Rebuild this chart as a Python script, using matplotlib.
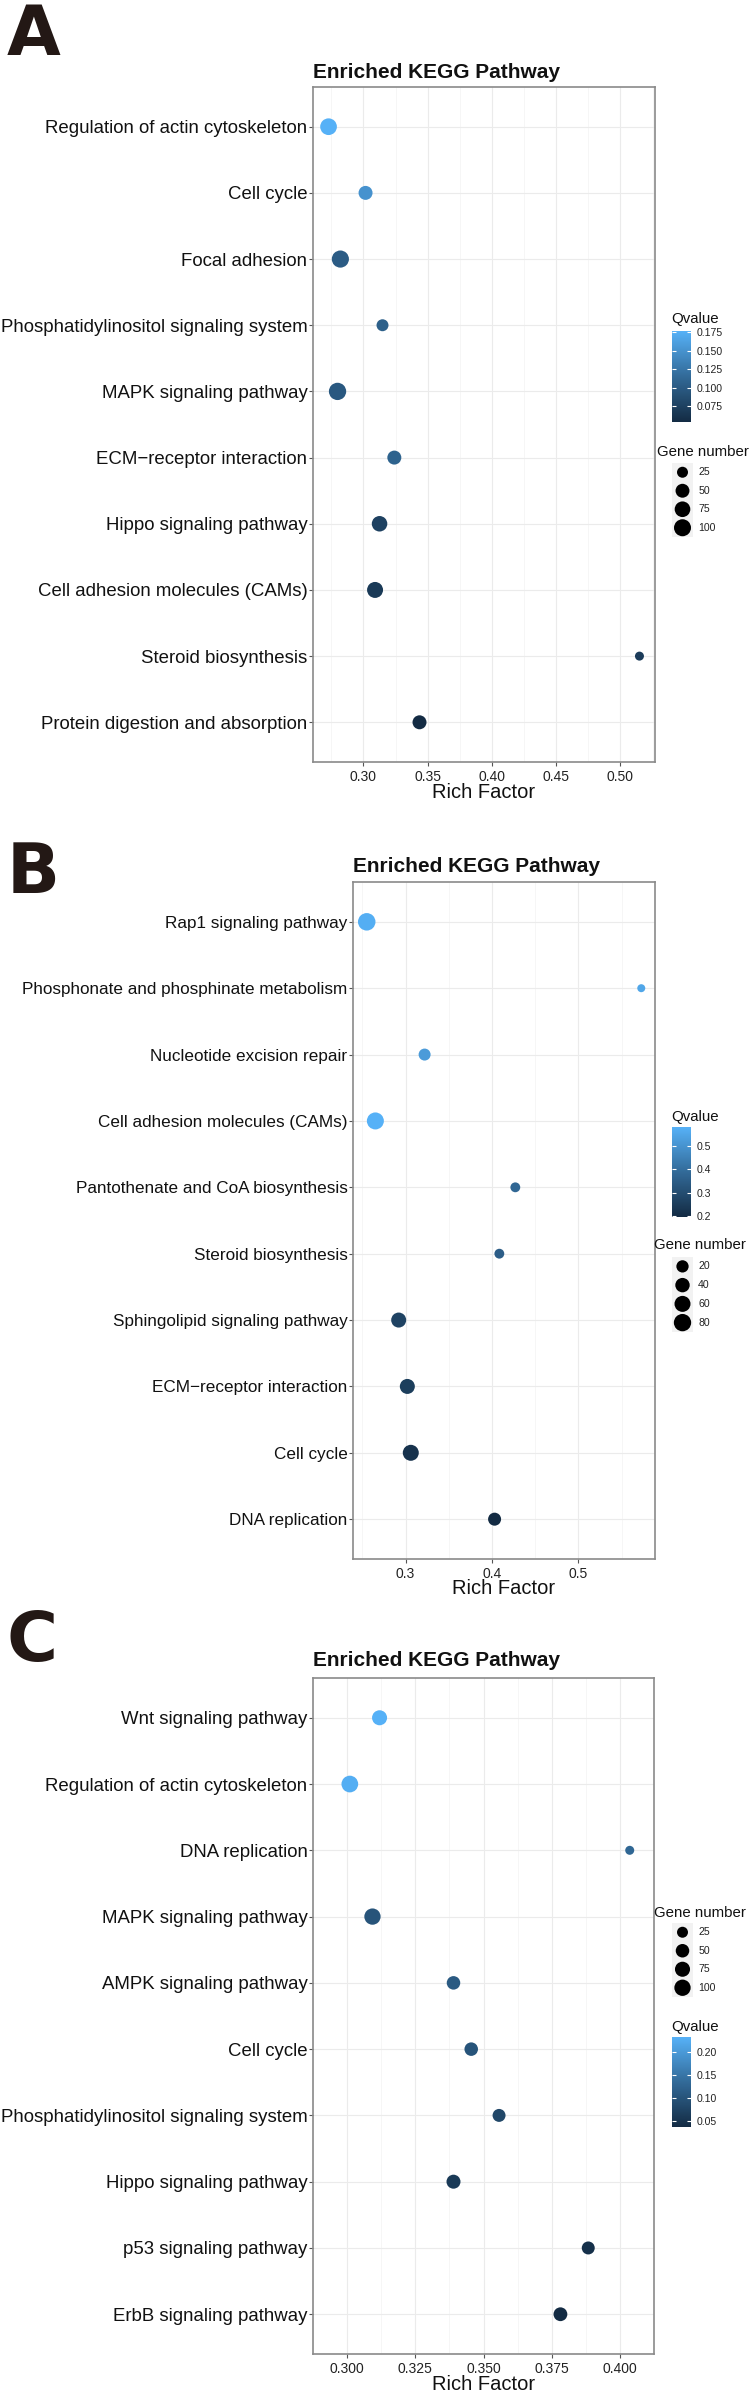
import numpy as np
import matplotlib
matplotlib.use('Agg')
import matplotlib.pyplot as plt
from matplotlib.colors import LinearSegmentedColormap, Normalize
from matplotlib.cm import ScalarMappable

plt.rcParams['font.family'] = ['Liberation Sans', 'DejaVu Sans']

W, H = 752, 2398
DPI = 100

# ---------------- data ----------------
a_terms = ['Regulation of actin cytoskeleton', 'Cell cycle', 'Focal adhesion',
           'Phosphatidylinositol signaling system', 'MAPK signaling pathway',
           'ECM\u2212receptor interaction', 'Hippo signaling pathway',
           'Cell adhesion molecules (CAMs)', 'Steroid biosynthesis',
           'Protein digestion and absorption']
a_rich = [0.2728, 0.3016, 0.282, 0.3148, 0.2798, 0.324, 0.3125, 0.309, 0.5148, 0.3436]
a_qvalue = [0.177, 0.150, 0.100, 0.105, 0.098, 0.108, 0.075, 0.068, 0.070, 0.053]
a_genes = [94, 51, 103, 31, 106, 51, 73, 81, 20, 51]
a_xticks = [0.30, 0.35, 0.40, 0.45, 0.50]
a_xlabels = ['0.30', '0.35', '0.40', '0.45', '0.50']
a_qticks = [0.075, 0.100, 0.125, 0.150, 0.175]
a_qlabels = ['0.075', '0.100', '0.125', '0.150', '0.175']
a_gene_keys = [25, 50, 75, 100]

b_terms = ['Rap1 signaling pathway', 'Phosphonate and phosphinate metabolism',
           'Nucleotide excision repair', 'Cell adhesion molecules (CAMs)',
           'Pantothenate and CoA biosynthesis', 'Steroid biosynthesis',
           'Sphingolipid signaling pathway', 'ECM\u2212receptor interaction',
           'Cell cycle', 'DNA replication']
b_rich = [0.255, 0.5728, 0.322, 0.265, 0.427, 0.4085, 0.292, 0.302, 0.306, 0.403]
b_qvalue = [0.570, 0.550, 0.520, 0.580, 0.380, 0.350, 0.270, 0.255, 0.220, 0.197]
b_genes = [83, 4, 18, 75, 7, 7, 47, 47, 60, 26]
b_xticks = [0.3, 0.4, 0.5]
b_xlabels = ['0.3', '0.4', '0.5']
b_qticks = [0.2, 0.3, 0.4, 0.5]
b_qlabels = ['0.2', '0.3', '0.4', '0.5']
b_gene_keys = [20, 40, 60, 80]

c_terms = ['Wnt signaling pathway', 'Regulation of actin cytoskeleton', 'DNA replication',
           'MAPK signaling pathway', 'AMPK signaling pathway', 'Cell cycle',
           'Phosphatidylinositol signaling system', 'Hippo signaling pathway',
           'p53 signaling pathway', 'ErbB signaling pathway']
c_rich = [0.3119, 0.301, 0.4036, 0.3093, 0.339, 0.3455, 0.3557, 0.339, 0.3884, 0.3782]
c_qvalue = [0.233, 0.228, 0.130, 0.100, 0.110, 0.100, 0.080, 0.060, 0.045, 0.037]
c_genes = [74, 109, 19, 100, 50, 50, 43, 57, 43, 54]
c_xticks = [0.300, 0.325, 0.350, 0.375, 0.400]
c_xlabels = ['0.300', '0.325', '0.350', '0.375', '0.400']
c_qticks = [0.05, 0.10, 0.15, 0.20]
c_qlabels = ['0.05', '0.10', '0.15', '0.20']
c_gene_keys = [25, 50, 75, 100]

# ggplot-like default gradient
cmap = LinearSegmentedColormap.from_list('gg', ['#132B43', '#326A98', '#56B1F7'])


def rect(l, t, r, b):
    return [l / W, 1 - b / H, (r - l) / W, (b - t) / H]


def dot_size(g, gmin, gmax, dmin, dmax):
    g = np.asarray(g, dtype=float)
    frac = np.clip((g - gmin) / (gmax - gmin), 0, None)
    d = dmin + (dmax - dmin) * np.sqrt(frac)
    return (d * 72.0 / DPI) ** 2


def draw_panel(fig, letter, terms, rich, qvalue, genes, xticks, xlabels,
               qticks, qlabels, gene_keys, lay):
    l, t, r, b = lay['box']
    ax = fig.add_axes(rect(l, t, r, b))
    n = len(terms)
    y = np.arange(n)
    norm = Normalize(min(qvalue), max(qvalue))
    gmin, gmax = min(genes), max(genes)
    ax.scatter(rich, y, s=dot_size(genes, gmin, gmax, *lay['dots']),
               c=qvalue, cmap=cmap, norm=norm, edgecolors='none', zorder=3)

    span = max(rich) - min(rich)
    ax.set_xlim(min(rich) - 0.05 * span, max(rich) + 0.05 * span)
    ax.set_ylim(n - 0.4, -0.6)
    ax.set_yticks(y)
    ax.set_yticklabels(terms, fontsize=lay['label_fs'], color='#111111')
    ax.set_xticks(xticks)
    ax.set_xticklabels(xlabels, fontsize=10, color='#222222')
    step = xticks[1] - xticks[0]
    minor = np.arange(xticks[0] - step / 2, xticks[-1] + step, step)
    ax.set_xticks(minor, minor=True)
    ax.grid(which='major', color='#EBEBEB', lw=0.8)
    ax.grid(which='minor', axis='x', color='#F3F3F3', lw=0.5)
    ax.set_axisbelow(True)
    ax.tick_params(which='minor', length=0)
    ax.tick_params(axis='y', length=3, width=0.8, color='#555555', pad=1)
    ax.tick_params(axis='x', length=3, width=0.8, color='#555555', pad=3)
    for sp in ax.spines.values():
        sp.set_color('#8a8a8a')
        sp.set_linewidth(1.2)

    cx = (l + r) / 2 / W
    fig.text(l / W, 1 - lay['title_y'] / H, 'Enriched KEGG Pathway',
             fontsize=15, fontweight='bold', ha='left', va='center', color='#111111')
    fig.text(cx, 1 - lay['xlab_y'] / H, 'Rich Factor', fontsize=14.5,
             ha='center', va='center', color='#111111')
    fig.text(7 / W, 1 - lay['letter_y'] / H, letter, fontsize=50, family='DejaVu Sans',
             fontweight='bold', ha='left', va='top', color='#231815')

    # colour bar
    bl, bt, br, bb = lay['qbar']
    cax = fig.add_axes(rect(bl, bt, br, bb))
    cb = fig.colorbar(ScalarMappable(norm=norm, cmap=cmap), cax=cax, ticks=qticks)
    cb.outline.set_visible(False)
    cb.set_ticklabels(qlabels)
    cax.yaxis.set_ticks_position('both')
    cax.tick_params(direction='in', length=3, width=0.8, color='white',
                    labelsize=7.6, labelcolor='#222222', pad=4,
                    labelleft=False, labelright=True)
    fig.text(lay['qtitle'][0] / W, 1 - lay['qtitle'][1] / H, 'Qvalue',
             fontsize=10.8, ha='center', va='center', color='#111111')

    # gene number legend
    kl, kt, kr, kb = lay['keys']
    lax = fig.add_axes(rect(kl, kt, kr, kb))
    lax.set_facecolor('#F2F2F2')
    k = len(gene_keys)
    lax.set_xlim(0, 1)
    lax.set_ylim(k - 0.5, -0.5)
    lax.scatter([0.5] * k, np.arange(k),
                s=dot_size(gene_keys, gmin, gmax, *lay['dots']),
                color='black', edgecolors='none', clip_on=False)
    for i, g in enumerate(gene_keys):
        lax.text(1.25, i, str(g), fontsize=7.6, va='center', ha='left', color='#222222')
    lax.set_xticks([])
    lax.set_yticks([])
    for sp in lax.spines.values():
        sp.set_visible(False)
    fig.text(lay['gtitle'][0] / W, 1 - lay['gtitle'][1] / H, 'Gene number',
             fontsize=10.8, ha='center', va='center', color='#111111')


fig = plt.figure(figsize=(W / DPI, H / DPI), dpi=DPI)

lay_a = dict(box=(313, 87, 655, 762), title_y=72, xlab_y=793, letter_y=2, label_fs=13.4,
             qbar=(672, 331, 691, 422), qtitle=(695, 319),
             keys=(672, 463, 693, 537), gtitle=(703, 452), dots=(9, 17.3))
lay_b = dict(box=(353, 882, 655, 1559), title_y=867, xlab_y=1589, letter_y=840, label_fs=12.3,
             qbar=(672, 1127, 691, 1217), qtitle=(695, 1117),
             keys=(672, 1257, 693, 1332), gtitle=(700, 1245), dots=(8, 17.5))
lay_c = dict(box=(313, 1678, 654, 2354), title_y=1660, xlab_y=2385, letter_y=1608, label_fs=13.4,
             qbar=(672, 2037, 691, 2127), qtitle=(695, 2027),
             keys=(672, 1923, 693, 1997), gtitle=(700, 1913), dots=(9, 16.7))

draw_panel(fig, 'A', a_terms, a_rich, a_qvalue, a_genes, a_xticks, a_xlabels,
           a_qticks, a_qlabels, a_gene_keys, lay_a)
draw_panel(fig, 'B', b_terms, b_rich, b_qvalue, b_genes, b_xticks, b_xlabels,
           b_qticks, b_qlabels, b_gene_keys, lay_b)
draw_panel(fig, 'C', c_terms, c_rich, c_qvalue, c_genes, c_xticks, c_xlabels,
           c_qticks, c_qlabels, c_gene_keys, lay_c)

fig.savefig('out.png', dpi=DPI)
